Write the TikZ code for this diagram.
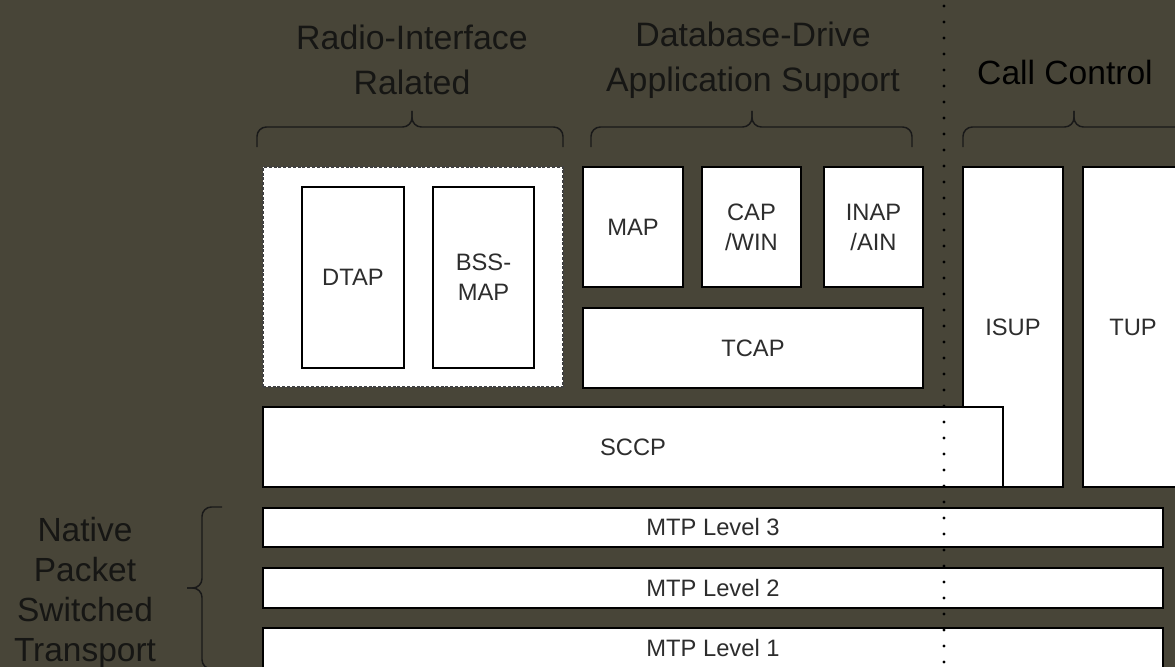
\documentclass[tikz,border=0pt]{standalone}
\usepackage{fontspec}
\setmainfont{Liberation Sans}
\definecolor{bgolive}{RGB}{72,69,56}
\definecolor{labelgray}{RGB}{45,45,45}
\definecolor{headtext}{RGB}{22,22,20}
\tikzset{
  layerbox/.style={draw=black, fill=white, line width=1.1pt, inner sep=0pt,
    text=labelgray, align=center, font=\fontsize{17.8}{22.5}\selectfont},
  groupbox/.style={draw=black!75, fill=white, line width=0.9pt, inner sep=0pt,
    dash pattern=on 2.2pt off 1.4pt},
  heading/.style={text=headtext, align=center, font=\fontsize{25.4}{33.75}\selectfont},
  bracepath/.style={draw=black!90, line width=1.1pt, rounded corners=7pt},
  dotline/.style={draw=black, line width=2.6pt, line cap=round, dash pattern=on 0pt off 12pt}
}
% \layerat[style]{name}{x1}{y1}{x2}{y2}{text}  (pixel coordinates, y down)
\newcommand{\layerat}[7][layerbox]{%
  \node[#1, minimum width={0.75pt*(#5-#3)}, minimum height={0.75pt*(#6-#4)}]
    (#2) at ({(#3+#5)/2},{(#4+#6)/2}) {#7};}
\newcommand{\topbrace}[3]{% x1, x2, xm
  \draw[bracepath] (#1,147) -- (#1,127) -- (#3,127) -- (#3,111);
  \draw[bracepath] (#2,147) -- (#2,127) -- (#3,127) -- (#3,111);
}
\begin{document}
\begin{tikzpicture}[x=0.75pt, y=-0.75pt]
\useasboundingbox (0,0) rectangle (1175,667);
\fill[bgolive] (0,0) rectangle (1175,667);
\clip (0,0) rectangle (1175,667);

% headings
\node[heading] (radio) at (412,60) {Radio-Interface\\Ralated};
\node[heading] (dbase) at (753,60) {Database-Drive\\Application Support};
\node[heading, text=black, font=\fontsize{25.2}{30}\selectfont] (callctl) at (1065,72) {Call Control};
\node[heading, font=\fontsize{25.1}{30}\selectfont] (native) at (85,593) {Native\\Packet\\Switched\\Transport};

% braces
\topbrace{257}{563}{412}
\topbrace{591}{912}{752}
\topbrace{963}{1185}{1074}
\draw[bracepath] (222,507) -- (202,507) -- (202,588) -- (187,588);
\draw[bracepath] (222,669) -- (202,669) -- (202,588) -- (187,588);

% radio interface group
\layerat[groupbox]{radiogrp}{263}{167}{563}{387}{}
\layerat{dtap}{302}{187}{404}{368}{DTAP}
\layerat{bssmap}{433}{187}{534}{368}{BSS-\\MAP}

% database group
\layerat{map}{583}{167}{683}{287}{MAP}
\layerat{capwin}{702}{167}{801}{287}{CAP\\/WIN}
\layerat{inap}{824}{167}{923}{287}{INAP\\/AIN}
\layerat{tcap}{583}{308}{923}{388}{TCAP}

% call control
\layerat{isup}{963}{167}{1063}{487}{ISUP}
\layerat{tup}{1083}{167}{1183}{487}{TUP}

% SCCP
\layerat{sccp}{263}{407}{1003}{487}{SCCP}

% MTP levels
\layerat{mtp3}{263}{508}{1163}{547}{MTP Level 3}
\layerat{mtp2}{263}{568}{1163}{608}{MTP Level 2}
\layerat{mtp1}{263}{628}{1163}{668}{MTP Level 1}

% dotted separator
\draw[dotline] (944,6) -- (944,680);
\end{tikzpicture}
\end{document}
